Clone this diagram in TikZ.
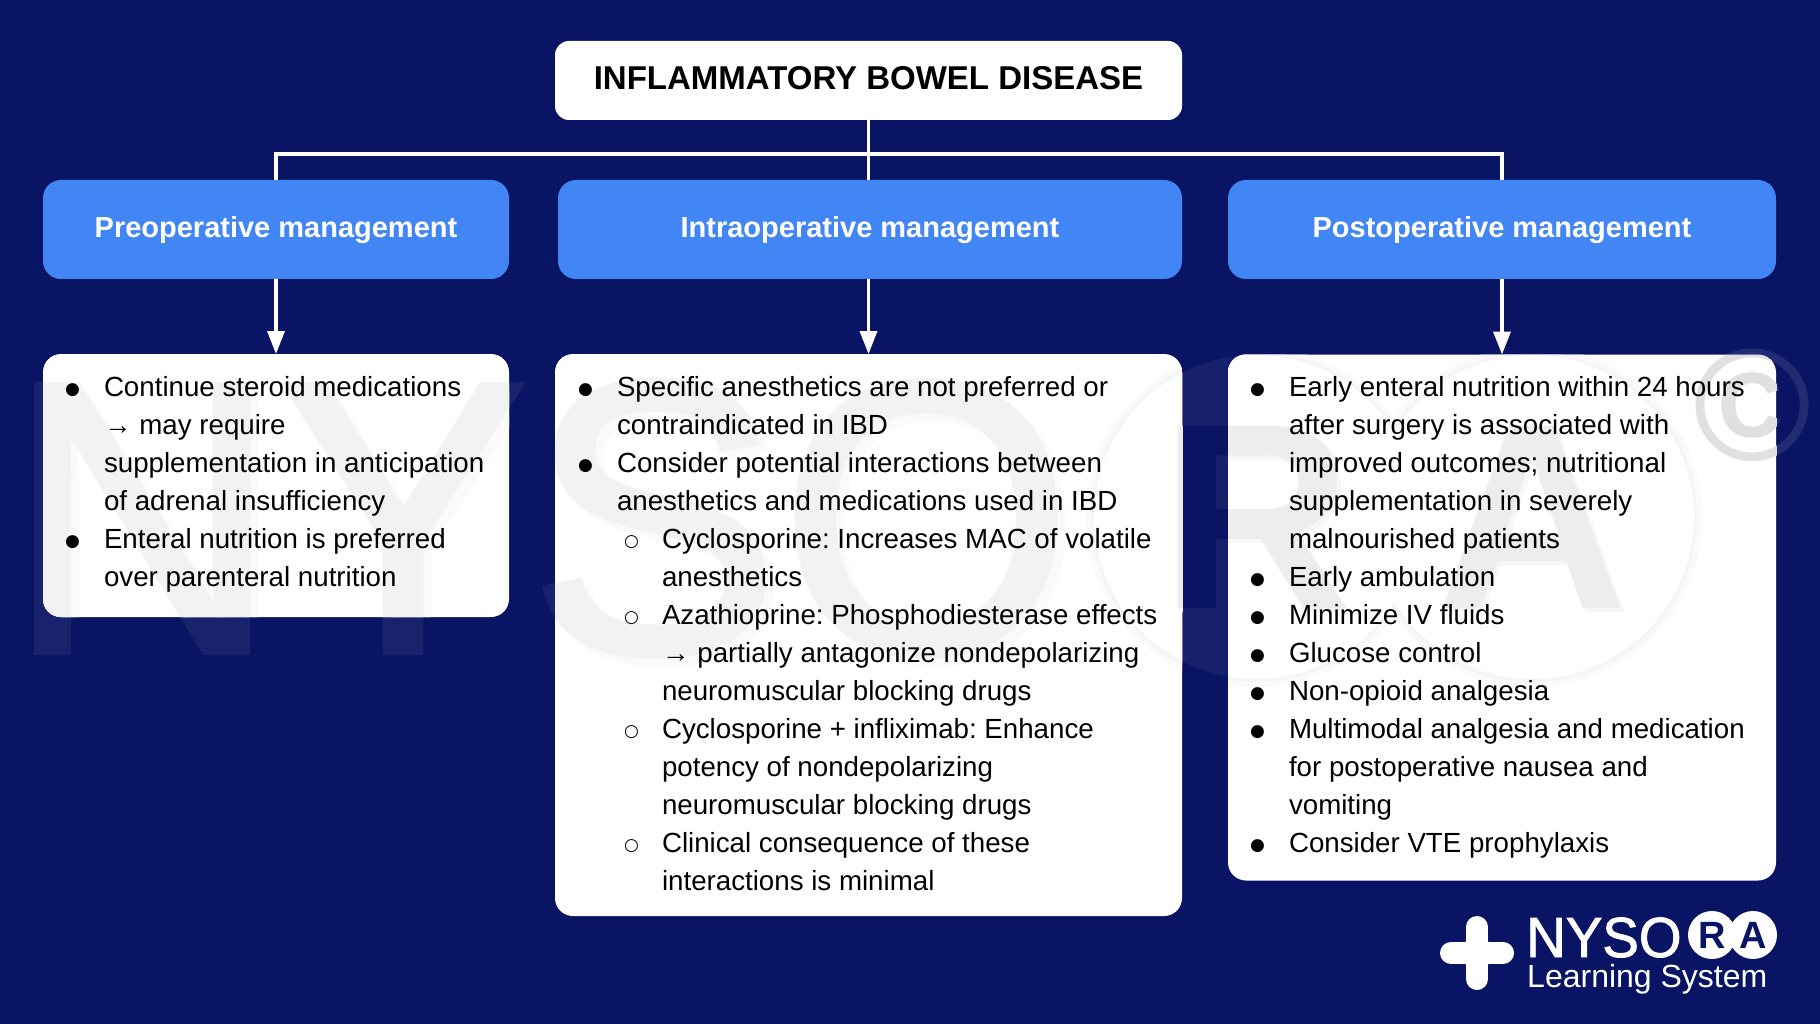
\documentclass[tikz,border=0pt]{standalone}
\usepackage{fontspec}
\usetikzlibrary{arrows.meta}
\setmainfont{Liberation Sans}
\newfontfamily\boldface{Liberation Sans Bold}
\newfontfamily\bodyface{Liberation Sans}
\newfontfamily\markface[FakeBold=1.5,FakeStretch=0.97]{Liberation Sans}
\newfontfamily\plainlogo{Liberation Sans}
\newfontfamily\blogo{Liberation Sans Bold}
\newfontfamily\dotface{DejaVu Sans}
\definecolor{bgblue}{HTML}{0A1464}
\definecolor{headblue}{HTML}{4285F4}
\newcommand\BL{\rule{0pt}{24pt}\makebox[38pt][l]{\raisebox{2pt}{\fontsize{17}{17}\dotface\kern-1pt ●}}}
\newcommand\CT{\rule{0pt}{24pt}\makebox[38pt]{}}
\newcommand\SB{\rule{0pt}{24pt}\makebox[46pt]{}\makebox[37pt][l]{\raisebox{2pt}{\fontsize{17}{17}\dotface\kern-1pt ○}}}
\newcommand\SC{\rule{0pt}{24pt}\makebox[83pt]{}}
\tikzset{
  x=1pt,y=-1pt,
  whitebox/.style={fill=white,draw=none,rounded corners=18pt,inner sep=0pt,outer sep=0pt},
  headbox/.style={fill=headblue,draw=none,rounded corners=18pt,inner sep=0pt,outer sep=0pt,text=white,
     text height=23pt,text depth=6pt,font=\fontsize{29}{34}\boldface},
  titlebox/.style={fill=white,draw=none,rounded corners=14pt,inner sep=0pt,outer sep=0pt,
     text height=24pt,text depth=6pt,font=\fontsize{33}{38}\boldface},
  bodytext/.style={anchor=north west,inner sep=0pt,outer sep=0pt,align=left,text=black,
     font=\fontsize{27.7}{38}\bodyface\frenchspacing},
  link/.style={draw=white,line width=3.5pt},
  linkarrow/.style={link,-{Triangle[width=17pt,length=23pt]},shorten >=0pt},
  wmbig/.style={inner sep=0pt,outer sep=0pt,anchor=base west,font=\fontsize{388}{388}\markface},
  wmletter/.style={inner sep=0pt,outer sep=0pt,font=\fontsize{265}{265}\blogo},
  wmcopy/.style={inner sep=0pt,outer sep=0pt,font=\fontsize{160}{160}\blogo},
}
\begin{document}
\begin{tikzpicture}
\useasboundingbox (0,0) rectangle (1820,1024);
\fill[bgblue] (0,0) rectangle (1820,1024);
% watermark on the dark ground
\node[wmbig,text=bgblue!94!white] (wmA) at (6,652) {NYSO};
\fill[bgblue!95!white] (1256,517) circle (162) (1532,517) circle (162);
\node[wmletter,text=bgblue] (wmB) at (1256,517) {R};
\node[wmletter,text=bgblue] (wmC) at (1532,517) {A};
\node[wmcopy,text=bgblue!90!white] (wmD) at (1752,405) {©};
% connectors
\coordinate (bus) at (868,154);
% boxes
\node[titlebox,minimum width=627pt,minimum height=79pt] (title) at (868.5,80.5) {INFLAMMATORY BOWEL DISEASE};
\node[headbox,minimum width=466pt,minimum height=99pt] (hL) at (276,229.5) {Preoperative management};
\node[headbox,minimum width=624pt,minimum height=99pt] (hM) at (870,229.5) {Intraoperative management};
\node[headbox,minimum width=548pt,minimum height=99pt] (hR) at (1502,229.5) {Postoperative management};
\node[whitebox,minimum width=466pt,minimum height=263pt] (bL) at (276,485.5) {};
\node[whitebox,minimum width=627pt,minimum height=562pt] (bM) at (868.5,635) {};
\node[whitebox,minimum width=548pt,minimum height=526pt] (bR) at (1502,617.5) {};
\draw[link] (title.south) -- (title.south |- bus);
\draw[link] (title.south |- bus) -| (hL.north);
\draw[link] (title.south |- bus) -| (hR.north);
\draw[link] (title.south |- bus) -- (title.south |- hM.north);
\draw[linkarrow] (hL.south) -- (bL.north);
\draw[linkarrow] (hM.south -| bM.north) -- (bM.north);
\draw[linkarrow] (hR.south) -- (bR.north);
% watermark as it shows on the white boxes
\begin{scope}
\clip[rounded corners=18pt] (bL.north west) rectangle (bL.south east)
  (bM.north west) rectangle (bM.south east)
  (bR.north west) rectangle (bR.south east);
\fill[black!2] (1256,517) circle (170) (1532,517) circle (170);
\fill[black!4] (1256,517) circle (165) (1532,517) circle (165);
\node[wmbig,text=black!2] (wnA) at (14,660) {NYSO};
\node[wmbig,text=black!5] (wnB) at (6,652) {NYSO};
\fill[white] (1256,517) circle (162) (1532,517) circle (162);
\node[wmletter,text=black!3] (wrA) at (1260,521) {R};
\node[wmletter,text=black!7] (wrB) at (1256,517) {R};
\node[wmletter,text=black!3] (waA) at (1536,521) {A};
\node[wmletter,text=black!7] (waB) at (1532,517) {A};
\node[wmcopy,text=black!12] (wcA) at (1752,405) {©};
\end{scope}
% lists
\node[bodytext] (listL) at (66,372) {\BL Continue steroid medications\\
\CT → may require\\
\CT supplementation in anticipation\\
\CT of adrenal insufficiency\\
\BL Enteral nutrition is preferred\\
\CT over parenteral nutrition};
\node[bodytext] (listM) at (579,372) {\BL Specific anesthetics are not preferred or\\
\CT contraindicated in IBD\\
\BL Consider potential interactions between\\
\CT anesthetics and medications used in IBD\\
\SB Cyclosporine: Increases MAC of volatile\\
\SC anesthetics\\
\SB Azathioprine: Phosphodiesterase effects\\
\SC → partially antagonize nondepolarizing\\
\SC neuromuscular blocking drugs\\
\SB Cyclosporine + infliximab: Enhance\\
\SC potency of nondepolarizing\\
\SC neuromuscular blocking drugs\\
\SB Clinical consequence of these\\
\SC interactions is minimal};
\node[bodytext] (listR) at (1251,372) {\BL Early enteral nutrition within 24 hours\\
\CT after surgery is associated with\\
\CT improved outcomes; nutritional\\
\CT supplementation in severely\\
\CT malnourished patients\\
\BL Early ambulation\\
\BL Minimize IV fluids\\
\BL Glucose control\\
\BL Non-opioid analgesia\\
\BL Multimodal analgesia and medication\\
\CT for postoperative nausea and\\
\CT vomiting\\
\BL Consider VTE prophylaxis};
% logo
\draw[white,line width=22pt,line cap=round] (1451,953) -- (1503,953) (1477,927) -- (1477,979);
\fill[white,rotate around={45:(1477,953)}] (1461,937) rectangle (1493,969);
\node[inner sep=0pt,anchor=base west,text=white,font=\fontsize{56.5}{57}\markface] (lN) at (1526,957) {NYSO};
\fill[white] (1712,935) circle (24) (1753,935) circle (24);
\node[inner sep=0pt,text=bgblue,font=\fontsize{38}{38}\blogo] (lR) at (1712,935) {R};
\node[inner sep=0pt,text=bgblue,font=\fontsize{38}{38}\blogo] (lA) at (1753,935) {A};
\node[inner sep=0pt,anchor=base west,text=white,font=\fontsize{32}{32}\plainlogo] (lS) at (1527,987) {Learning System};
\end{tikzpicture}
\end{document}
